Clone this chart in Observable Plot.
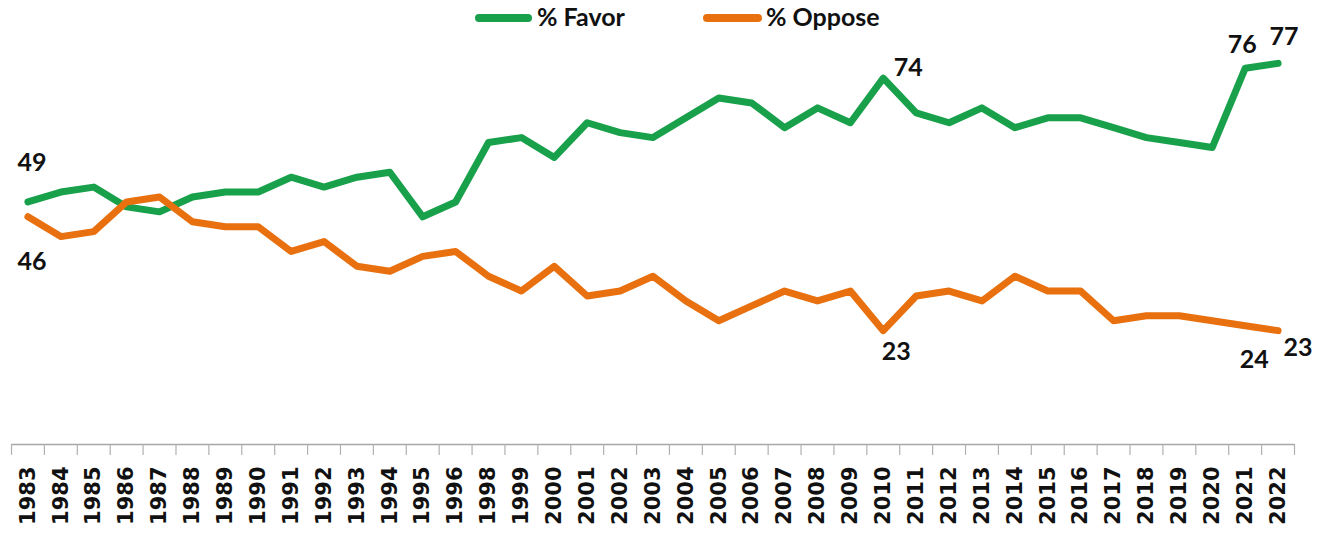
<!DOCTYPE html>
<html><head><meta charset="utf-8">
<script src="https://cdn.jsdelivr.net/npm/d3@7"></script>
<script src="https://cdn.jsdelivr.net/npm/@observablehq/plot@0.6"></script>
<style>
body{margin:0;background:#fff;}
#legend{position:relative;width:1317px;height:40px;font-family:Lato,"Open Sans",sans-serif;font-weight:bold;font-size:25px;color:#111;}
.sw{position:absolute;height:8px;border-radius:4px;top:14px;}
.lb{position:absolute;top:1px;white-space:nowrap;}
</style></head><body>
<div id="legend"></div>
<div id="chart"></div>
<script>
// ---- data ----
const years = ["1983","1984","1985","1986","1987","1988","1989","1990","1991","1992","1993","1994","1995","1996",
  "1998","1999","2000","2001","2002","2003","2004","2005","2006","2007","2008","2009","2010",
  "2011","2012","2013","2014","2015","2016","2017","2018","2019","2020","2021","2022"];
const favor = [49,51,52,48,47,50,51,51,54,52,54,55,46,49,
  61,62,58,65,63,62,66,70,69,64,68,65,74,
  67,65,68,64,66,66,64,62,61,60,76,77];
const oppose = [46,42,43,49,50,45,44,44,39,41,36,35,38,39,
  34,31,36,30,31,34,29,25,28,31,29,31,23,
  30,31,29,34,31,31,25,26,26,25,24,23];
const seriesNames = ["% Favor", "% Oppose"];
const seriesColors = ["#18a04b", "#e8700f"];
// labelled points: [series index, year]
const labelled = [[0,"1983"],[1,"1983"],[0,"2010"],[1,"2010"],[0,"2021"],[0,"2022"],[1,"2021"],[1,"2022"]];

// ---- layout (offsets for value labels, px) ----
const labelOffsets = [[4,-39],[4,45],[25,-10],[13,21],[-3,-23],[6,-26],[9,34],[20,17]];

const values = [favor, oppose];
const rows = [];
values.forEach((vals, s) => vals.forEach((v, i) => rows.push({i, year: years[i], value: v, series: seriesNames[s]})));

// legend
const legend = document.getElementById("legend");
const legPos = [[475, 57, 537], [703, 59, 766]];
seriesNames.forEach((name, s) => {
  const sw = document.createElement("div");
  sw.className = "sw";
  sw.style.left = legPos[s][0] + "px";
  sw.style.width = legPos[s][1] + "px";
  sw.style.background = seriesColors[s];
  legend.appendChild(sw);
  const lb = document.createElement("div");
  lb.className = "lb";
  lb.style.left = legPos[s][2] + "px";
  lb.textContent = name;
  legend.appendChild(lb);
});

const labelMarks = labelled.map(([s, yr], k) => {
  const i = years.indexOf(yr);
  return Plot.text([{i, value: values[s][i]}], {
    x: "i", y: "value", text: d => String(d.value),
    dx: labelOffsets[k][0], dy: labelOffsets[k][1],
    fontSize: 25, fontWeight: "bold", fontFamily: "Lato, 'Open Sans', sans-serif", fill: "#111"
  });
});

const chart = Plot.plot({
  width: 1317, height: 494,
  marginLeft: 11, marginRight: 23, marginTop: 8, marginBottom: 90,
  x: {type: "linear", domain: [-0.5, years.length - 0.5], axis: null, label: null},
  y: {domain: [0, 80], axis: null, label: null},
  color: {domain: seriesNames, range: seriesColors},
  style: {background: "#fff", overflow: "visible", fontFamily: "'DejaVu Sans', sans-serif"},
  marks: [
    Plot.ruleY([0], {stroke: "#a8a8a8", strokeWidth: 1.3}),
    Plot.ruleX(d3.range(years.length + 1).map(k => k - 0.5), {x: d => d, y1: 0, y2: -2.2, stroke: "#b0b0b0", strokeWidth: 1.2}),
    Plot.axisX({ticks: d3.range(years.length), tickFormat: i => years[i], tickRotate: -90, tickSize: 0, tickPadding: 22,
      label: null, fontSize: 21, fontWeight: "bold", fontFamily: "'DejaVu Sans', sans-serif", fill: "#111"}),
    Plot.line(rows, {x: "i", y: "value", z: "series", stroke: "series", strokeWidth: 7}),
    ...labelMarks
  ]
});
document.getElementById("chart").appendChild(chart);
</script>
</body></html>
